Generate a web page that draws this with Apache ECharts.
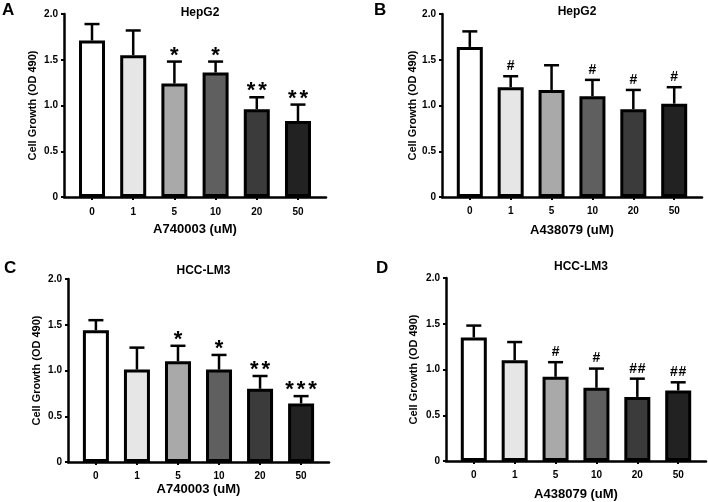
<!DOCTYPE html>
<html>
<head>
<meta charset="utf-8">
<script src="https://cdn.jsdelivr.net/npm/echarts@6/dist/echarts.min.js"></script>
<style>
html,body{margin:0;padding:0;background:#fff;}
#chart{width:708px;height:502px;}
</style>
</head>
<body>
<div id="chart"></div>
<script>
// ---- data ----
const doses = ['0', '1', '5', '10', '20', '50'];
const yTicks = ['0', '0.5', '1.0', '1.5', '2.0'];

const panelLetters = ['A', 'B', 'C', 'D'];
const cellLines = ['HepG2', 'HepG2', 'HCC-LM3', 'HCC-LM3'];
const drugNames = ['A740003 (uM)', 'A438079 (uM)', 'A740003 (uM)', 'A438079 (uM)'];

const meanA = [1.71, 1.55, 1.24, 1.36, 0.96, 0.83];
const sdA   = [0.18, 0.27, 0.24, 0.12, 0.13, 0.18];
const markA = ['', '', '*', '*', '**', '**'];

const meanB = [1.64, 1.20, 1.17, 1.10, 0.96, 1.02];
const sdB   = [0.17, 0.12, 0.27, 0.18, 0.21, 0.18];
const markB = ['', '#', '', '#', '#', '#'];

const meanC = [1.44, 1.01, 1.10, 1.01, 0.80, 0.64];
const sdC   = [0.11, 0.24, 0.17, 0.16, 0.14, 0.08];
const markC = ['', '', '*', '*', '**', '***'];

const meanD = [1.35, 1.10, 0.92, 0.80, 0.70, 0.77];
const sdD   = [0.13, 0.20, 0.16, 0.21, 0.20, 0.09];
const markD = ['', '', '#', '#', '##', '##'];

const barColors = ['#ffffff', '#e6e6e6', '#a9a9a9', '#5f5f5f', '#3b3b3b', '#222222'];

// ---- layout ----
const FONT = 'Liberation Sans, Arial, sans-serif';
const means = [meanA, meanB, meanC, meanD];
const sds = [sdA, sdB, sdC, sdD];
const marks = [markA, markB, markC, markD];
const grids = [
  {left: 64,  top: 14,  width: 262, height: 183},
  {left: 442, top: 14,  width: 260, height: 183},
  {left: 68,  top: 279, width: 261, height: 183},
  {left: 446, top: 278, width: 260, height: 183}
];
const letterPos = [[2, 2], [374, 2], [4, 260], [376, 260]];
const titleY = [2, 1, 260, 256];
const xNameGap = [26, 27, 21, 27];
const yNameGap = [26, 23, 26, 27];
const xLabelMargin = [10, 9, 9, 9];

const option = {
  animation: false,
  backgroundColor: '#fff',
  title: [],
  grid: grids,
  xAxis: [],
  yAxis: [],
  series: [],
  graphic: []
};

for (let p = 0; p < 4; p++) {
  const g = grids[p];
  option.title.push({
    text: cellLines[p],
    left: g.left + g.width / 2,
    top: titleY[p],
    textAlign: 'center',
    textStyle: {fontFamily: FONT, fontWeight: 'bold', fontSize: 12, color: '#000'}
  });
  option.graphic.push({
    type: 'text',
    left: letterPos[p][0],
    top: letterPos[p][1],
    style: {text: panelLetters[p], font: 'bold 17px ' + FONT, fill: '#000'}
  });
  option.xAxis.push({
    type: 'value',
    gridIndex: p,
    min: -0.68,
    max: 5.68,
    name: drugNames[p],
    nameLocation: 'middle',
    nameGap: xNameGap[p],
    nameTextStyle: {fontFamily: FONT, fontWeight: 'bold', fontSize: 13, color: '#000'},
    splitLine: {show: false},
    axisLine: {show: true, onZero: false, lineStyle: {color: '#000', width: 2.5}},
    axisTick: {show: true, length: 3, lineStyle: {color: '#000', width: 2}, customValues: [0, 1, 2, 3, 4, 5]},
    axisLabel: {
      show: true,
      customValues: [0, 1, 2, 3, 4, 5],
      formatter: v => doses[Math.round(v)],
      margin: xLabelMargin[p],
      fontFamily: FONT, fontWeight: 'bold', fontSize: 10, color: '#000'
    }
  });
  option.yAxis.push({
    type: 'value',
    gridIndex: p,
    min: 0,
    max: 2,
    interval: 0.5,
    name: 'Cell Growth (OD 490)',
    nameLocation: 'middle',
    nameRotate: 90,
    nameGap: yNameGap[p],
    nameTextStyle: {fontFamily: FONT, fontWeight: 'bold', fontSize: 11, color: '#000'},
    splitLine: {show: false},
    axisLine: {show: true, onZero: false, lineStyle: {color: '#000', width: 2.5}},
    axisTick: {show: true, length: 3, lineStyle: {color: '#000', width: 2}},
    axisLabel: {
      formatter: v => yTicks[Math.round(v * 2)],
      margin: 6,
      fontFamily: FONT, fontWeight: 'bold', fontSize: 10, color: '#000'
    }
  });
  option.series.push({
    type: 'bar',
    xAxisIndex: p,
    yAxisIndex: p,
    barWidth: 26,
    z: 2,
    data: means[p].map((v, i) => ({
      value: [i, v],
      itemStyle: {color: barColors[i], borderColor: '#000', borderWidth: 3}
    }))
  });
  const mk = marks[p];
  option.series.push({
    type: 'custom',
    xAxisIndex: p,
    yAxisIndex: p,
    z: 1,
    data: means[p].map((v, i) => [i, v, sds[p][i]]),
    renderItem: function (params, api) {
      const i = api.value(0);
      const m = api.value(1);
      const s = api.value(2);
      const base = api.coord([i, m]);
      const top = api.coord([i, m + s]);
      const half = 7.5;
      const children = [
        {type: 'line', shape: {x1: base[0], y1: base[1], x2: top[0], y2: top[1]},
         style: {stroke: '#000', lineWidth: 2.5}},
        {type: 'line', shape: {x1: top[0] - half, y1: top[1], x2: top[0] + half, y2: top[1]},
         style: {stroke: '#000', lineWidth: 2.5}}
      ];
      const t = mk[i];
      if (t) {
        const isStar = t.indexOf('*') >= 0;
        const n = t.length;
        const spacing = isStar ? 11.5 : 8.5;
        for (let k = 0; k < n; k++) {
          children.push({
            type: 'text',
            x: top[0] + (k - (n - 1) / 2) * spacing,
            y: isStar ? top[1] - 6 : top[1] - 10,
            style: {
              text: t[k],
              font: isStar ? 'bold 22px ' + FONT : 'bold 14px ' + FONT,
              fill: '#000',
              align: 'center',
              verticalAlign: 'middle'
            }
          });
        }
      }
      return {type: 'group', children: children};
    }
  });
}

const chart = echarts.init(document.getElementById('chart'), null, {renderer: 'canvas'});
chart.setOption(option);
</script>
</body>
</html>
